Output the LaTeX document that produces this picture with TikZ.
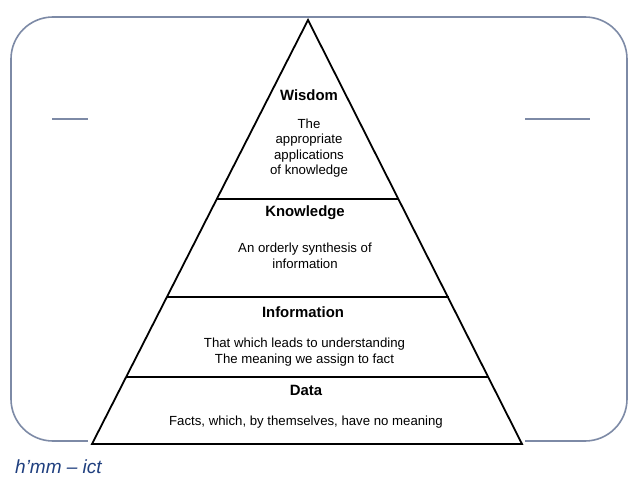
\documentclass[tikz,border=0pt]{standalone}
\usepackage{fontspec}
\setmainfont{Liberation Sans}
\begin{document}
\begin{tikzpicture}[x=1pt,y=-1pt,
  frame/.style={draw=framec,line width=1.6pt},
  layer/.style={draw=black,line width=1.8pt},
  head/.style={font=\fontsize{14.9}{17}\selectfont\bfseries,inner sep=0pt},
  body/.style={font=\fontsize{13.2}{15.5}\selectfont,align=center,inner sep=0pt}]
\definecolor{framec}{HTML}{7D8AA6}
\definecolor{footc}{HTML}{1F3F7F}
\useasboundingbox[fill=white] (0,0) rectangle (638,479);
% slide frame
\draw[frame,rounded corners=42pt] (11,17) rectangle (627,441);
\draw[frame] (52,119) -- (88,119);
\draw[frame] (525,119) -- (590,119);
% image background
\fill[white] (88,20) rectangle (525,447);
% pyramid
\coordinate (apex) at (308,20);
\coordinate (bl) at (92,444);
\coordinate (br) at (522,444);
\draw[layer,line join=miter] (apex) -- (bl) -- (br) -- cycle;
\coordinate (k1) at (217,199); \coordinate (k2) at (399,199);
\coordinate (i1) at (167,297); \coordinate (i2) at (449,297);
\coordinate (d1) at (127,377); \coordinate (d2) at (489,377);
\draw[black,line width=1.4pt] (k1) -- (k2);
\draw[black,line width=1.4pt] (i1) -- (i2);
\draw[black,line width=1.4pt] (d1) -- (d2);
% texts
\node[head] (wh) at (309,95) {Wisdom};
\node[body] (wb) at (309,148) {The\\appropriate\\applications\\of knowledge};
\node[head] (kh) at (305,213) {Knowledge};
\node[body] (kb) at (305,256) {An orderly synthesis of\\information};
\node[head] (ih) at (303,312) {Information};
\node[body] (ib) at (304.5,352) {That which leads to understanding\\The meaning we assign to fact};
\node[head] (dh) at (306,390) {Data};
\node[body] (db) at (306,422) {Facts, which, by themselves, have no meaning};
% footer
\node[font=\fontsize{19}{21}\selectfont\itshape,text=footc,anchor=west,inner sep=0pt] (ft) at (15,467) {h'mm -- ict};
\end{tikzpicture}
\end{document}
